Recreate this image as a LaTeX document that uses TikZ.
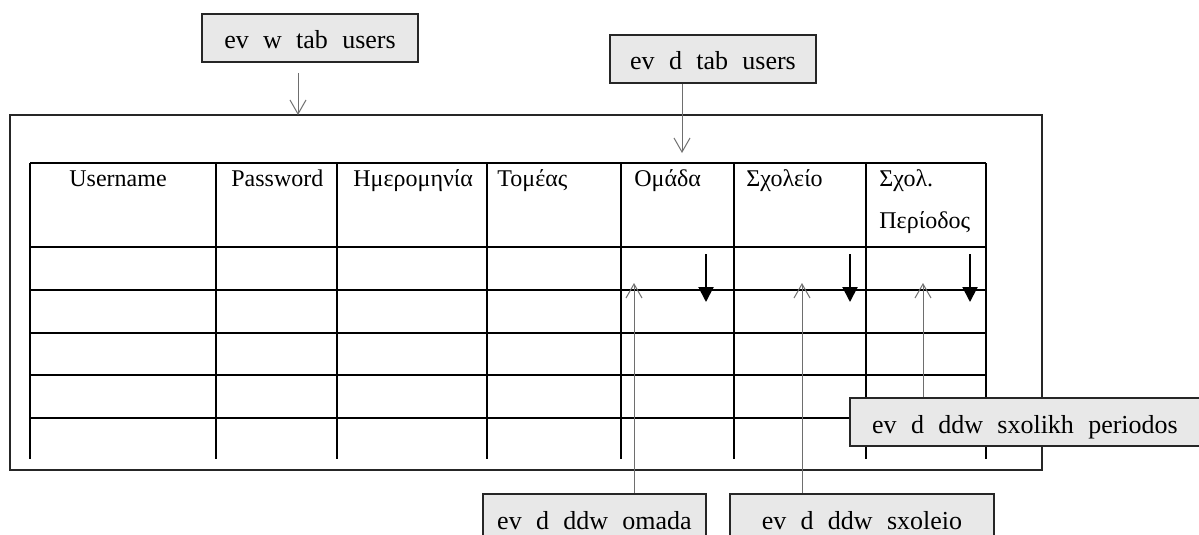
\documentclass[tikz,border=0pt]{standalone}
\usepackage{fontspec}
\setmainfont{Liberation Serif}
\usetikzlibrary{arrows.meta}
\definecolor{boxgray}{RGB}{232,232,232}
\definecolor{hintgray}{RGB}{110,110,110}

\begin{document}
\begin{tikzpicture}[
  x=0.5pt, y=-0.5pt,
  evbox/.style={draw=black!85, line width=1pt, fill=boxgray, inner sep=0pt, minimum height=24pt,
    text height=11pt, text depth=0pt, font={\fontsize{13}{15}\selectfont\spaceskip=0.55em\relax}},
  head/.style={anchor=base west, inner sep=0pt, font=\fontsize{12}{14}\selectfont},
  tabline/.style={line width=1pt},
  outer/.style={line width=1pt, draw=black!85},
  hint/.style={draw=hintgray, line width=0.5pt, -{Straight Barb[length=7pt,width=8pt]}},
  blackarrow/.style={line width=1pt, -{Triangle[length=7.5pt,width=7.5pt]}}
]
\useasboundingbox (0,0) rectangle (1199,535);

\draw[outer] (10,115) rectangle (1042,470);

\foreach \y in {163,247,290,333,375,418}
  \draw[tabline] (30,\y) -- (986,\y);
\foreach \x in {30,216,337,487,621,734,866,986}
  \draw[tabline] (\x,163) -- (\x,459);

\node[head] (user) at (69,186) {Username};
\node[head] (pass) at (231,186) {Password};
\node[head] (date) at (353,186) {Ημερομηνία};
\node[head] (sector) at (497,186) {Τομέας};
\node[head] (team) at (634,186) {Ομάδα};
\node[head] (school) at (746,186) {Σχολείο};
\node[head] (period) at (879,186) {Σχολ.};
\node[head] (period2) at (879,228) {Περίοδος};

\foreach \x [count=\i] in {706,850,970} {
  \coordinate (dn\i) at (\x,254);
  \coordinate (up\i) at (\x,302);
  \draw[blackarrow] (dn\i) -- (up\i);
}

\node[evbox, minimum width=108pt] (wtab) at (310,38) {ev w tab users};
\node[evbox, minimum width=103pt] (dtab) at (713,59) {ev d tab users};
\node[evbox, minimum width=111.5pt] (ddwteam) at (594.5,518) {ev d ddw omada};
\node[evbox, minimum width=132pt] (ddwschool) at (862,518) {ev d ddw sxoleio};

\coordinate (wtip) at (298,115);
\coordinate (dtip) at (682,153);
\coordinate (teamtip) at (634,283);
\coordinate (schooltip) at (802,283);
\coordinate (periodtip) at (923,283);

\draw[hint, shorten <=5pt] (wtab.south -| wtip) -- (wtip);
\draw[hint] (dtab.south -| dtip) -- (dtip);
\draw[hint] (ddwteam.north -| teamtip) -- (teamtip);
\draw[hint] (ddwschool.north -| schooltip) -- (schooltip);

\node[evbox, minimum width=175pt] (ddwperiod) at (1025,422) {ev d ddw sxolikh periodos};
\draw[hint] (ddwperiod.north -| periodtip) -- (periodtip);
\end{tikzpicture}
\end{document}
